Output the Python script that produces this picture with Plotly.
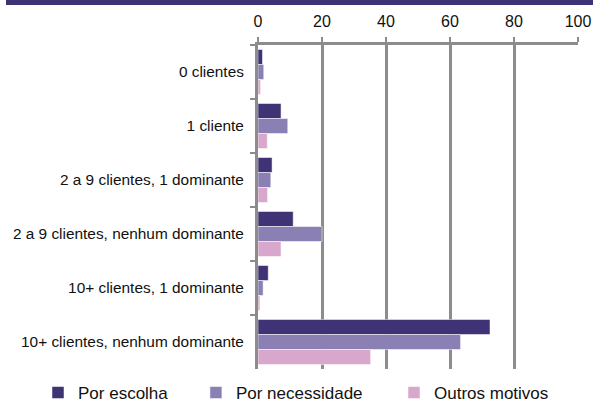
import plotly.graph_objects as go

# categories (top to bottom) and the three series, in %
categorias = ['0 clientes', '1 cliente', '2 a 9 clientes, 1 dominante',
              '2 a 9 clientes, nenhum dominante', '10+ clientes, 1 dominante',
              '10+ clientes, nenhum dominante']
por_escolha = [1.4, 7.2, 4.4, 11.0, 3.2, 72.5]
por_necessidade = [1.8, 9.3, 4.0, 20.0, 1.6, 63.3]
outros_motivos = [0.8, 2.9, 3.0, 7.2, 0.6, 35.2]

series = [('Por escolha', por_escolha, '#3f3275', 'legend'),
          ('Por necessidade', por_necessidade, '#8b80b4', 'legend2'),
          ('Outros motivos', outros_motivos, '#d8a8cc', 'legend3')]

fig = go.Figure()
for nome, vals, cor, leg in series:
    fig.add_trace(go.Bar(y=categorias, x=vals, name=nome, orientation='h',
                         legend=leg,
                         marker=dict(color=cor, line=dict(color='white', width=0.5))))

# one legend per series so each entry sits where it does in the original
leg_style = dict(orientation='h', yanchor='middle', y=-0.074, xanchor='left',
                 font=dict(size=17), bgcolor='rgba(0,0,0,0)')

fig.update_layout(
    width=593, height=405,
    margin=dict(l=258, r=15, t=45, b=36, autoexpand=False),
    plot_bgcolor='white', paper_bgcolor='white',
    font=dict(family='Liberation Sans, Arial', size=12, color='#111111'),
    barmode='group', bargap=0.167, bargroupgap=0,
    showlegend=True,
    legend=dict(x=-0.6875, **leg_style),
    legend2=dict(x=-0.194, **leg_style),
    legend3=dict(x=0.425, **leg_style),
    shapes=[dict(type='rect', xref='paper', yref='paper',
                 x0=-0.7875, x1=1.05, y0=1.1235, y1=1.14,
                 fillcolor='#3f3275', line=dict(width=0), layer='above')],
)

fig.update_xaxes(range=[0, 100], side='top', dtick=20, showgrid=True,
                 gridcolor='#8c8c8c', gridwidth=3, showline=True,
                 linecolor='#8c8c8c', linewidth=3, ticks='outside',
                 ticklen=5, tickwidth=2, tickcolor='#8c8c8c',
                 tickfont=dict(size=16), zeroline=False, automargin=False,
                 ticklabelstandoff=4)
fig.update_yaxes(autorange='reversed', showline=True, linecolor='#8c8c8c',
                 linewidth=3, ticks='outside', tickson='boundaries',
                 ticklen=5, tickwidth=2, tickcolor='#8c8c8c', showgrid=False,
                 tickfont=dict(size=15.4), ticklabelstandoff=8, automargin=False)

# page body has an 8px default margin; drop it so the figure fills the window
fig.write_html("out.html", config={'displayModeBar': False},
               post_script="document.body.style.margin='0';")
